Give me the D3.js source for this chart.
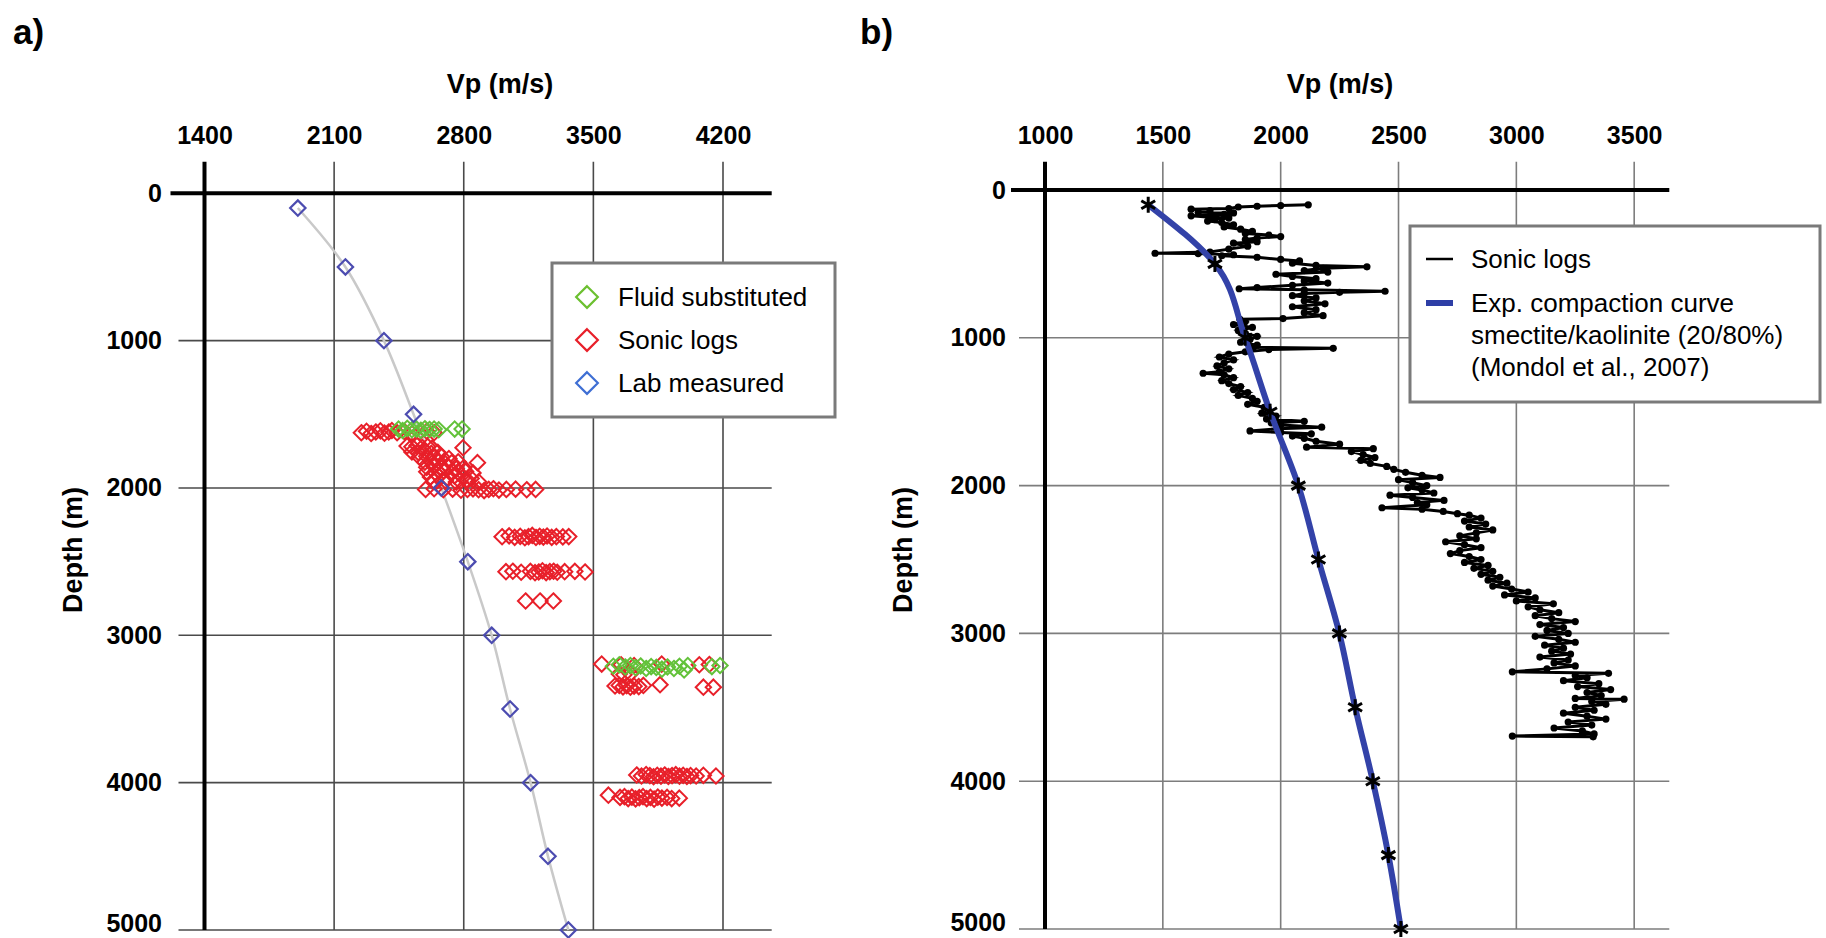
<!DOCTYPE html>
<html>
<head>
<meta charset="utf-8">
<script src="https://cdn.jsdelivr.net/npm/d3@7.9.0/dist/d3.min.js"></script>
<style>
  body { margin: 0; background: #fff; }
  svg { display: block; font-family: 'Liberation Sans', Arial, sans-serif; }
  .tick text { font-weight: bold; font-size: 25px; fill: #000; }
</style>
</head>
<body>
<svg id="chart" width="1826" height="938"></svg>
<script>
// axis ticks
const depthTicks = [0, 1000, 2000, 3000, 4000, 5000];
const vpTicksA = [1400, 2100, 2800, 3500, 4200];
const vpTicksB = [1000, 1500, 2000, 2500, 3000, 3500];

// a) lab measured
const labDepth = [100, 500, 1000, 1500, 2000, 2500, 3000, 3500, 4000, 4500, 5000];
const labVp = [1904, 2161, 2369, 2529, 2679, 2822, 2951, 3050, 3161, 3255, 3365];

// a) sonic logs [depth, vp]
const sonicA = [
  [1625,2247],[1615,2275],[1630,2300],[1620,2325],[1612,2350],[1628,2372],[1620,2395],[1610,2412],[1625,2440],[1618,2480],[1630,2520],[1622,2560],[1615,2600],[1625,2640],
  [1715,2494],[1720,2520],[1712,2548],[1725,2575],[1718,2605],[1730,2630],[1727,2796],
  [1755,2520],[1760,2555],[1750,2590],[1765,2625],[1758,2660],
  [1790,2560],[1785,2600],[1795,2640],[1788,2680],[1800,2720],
  [1828,2874],[1825,2590],[1830,2630],[1820,2665],[1835,2700],[1828,2735],[1822,2770],
  [1860,2600],[1855,2640],[1865,2680],[1858,2720],[1870,2760],[1862,2800],
  [1890,2600],[1895,2645],[1885,2690],[1900,2730],[1892,2770],[1888,2810],[1898,2850],
  [1925,2620],[1920,2665],[1930,2710],[1918,2750],[1928,2795],[1935,2840],
  [1955,2640],[1950,2700],[1960,2760],[1948,2820],[1958,2880],
  [2010,2594],[2005,2640],[2012,2690],[2008,2740],[2015,2785],[2010,2820],[2006,2850],[2012,2880],[2018,2910],[2010,2935],[2005,2960],[2014,2990],[2010,3030],[2008,3080],[2012,3140],[2010,3188],
  [2331,3007],[2325,3045],[2335,3075],[2328,3105],[2338,3130],[2330,3150],[2322,3170],[2336,3190],[2328,3210],[2333,3230],[2326,3250],[2335,3275],[2330,3300],[2332,3335],[2330,3367],
  [2568,3028],[2565,3065],[2572,3110],[2566,3160],[2575,3185],[2570,3205],[2562,3225],[2574,3245],[2568,3265],[2565,3285],[2572,3305],[2568,3345],[2566,3400],[2570,3455],
  [2767,3134],[2767,3212],[2767,3284],
  [3195,3545],[3200,3650],[3205,3720],[3195,3869],[3200,4072],[3198,4126],
  [3262,3640],[3268,3665],[3260,3700],
  [3344,3617],[3340,3640],[3350,3660],[3342,3680],[3352,3700],[3345,3720],[3348,3745],[3340,3770],[3335,3860],[3352,4094],[3352,4148],
  [3948,3734],[3955,3760],[3945,3785],[3952,3805],[3960,3825],[3950,3845],[3956,3865],[3948,3885],[3958,3905],[3952,3925],[3946,3945],[3956,3965],[3950,3985],[3958,4005],[3952,4025],[3955,4055],[3950,4094],[3955,4162],
  [4085,3581],[4100,3644],[4095,3668],[4108,3688],[4098,3708],[4110,3728],[4102,3748],[4095,3768],[4108,3788],[4100,3808],[4112,3828],[4098,3848],[4105,3870],[4100,3898],[4108,3923],[4105,3964]
];

// a) fluid substituted [depth, vp]
const fluidA = [
  [1600,2448],[1610,2470],[1595,2495],[1605,2520],[1600,2545],[1608,2568],[1598,2590],[1603,2615],[1600,2640],[1605,2665],[1600,2751],[1600,2791],
  [3210,3608],[3200,3640],[3215,3672],[3205,3700],[3220,3728],[3208,3755],[3225,3785],[3212,3812],[3218,3840],[3230,3870],[3215,3900],[3225,3935],[3210,3965],[3235,3990],[3205,4010],[3212,4140],[3205,4184]
];

// b) exp. compaction curve
const compDepth = [100, 500, 1000, 1500, 2000, 2500, 3000, 3500, 4000, 4500, 5000];
const compVp = [1438, 1721, 1849, 1955, 2075, 2160, 2249, 2316, 2391, 2457, 2510];

// b) sonic log trace [depth, vp]
const sonicB = [
  [100,2117],[105,2000],[110,1900],[115,1820],[125,1780],[130,1620],[140,1700],[150,1650],[155,1800],[165,1760],[175,1620],[185,1700],[190,1780],[200,1720],
  [210,1690],[220,1750],[235,1800],[250,1760],[265,1830],[280,1880],[295,1850],[305,1950],[315,2000],[325,1900],[335,1850],[350,1900],[360,1800],[380,1860],
  [400,1780],[420,1700],[428,1467],[430,1650],[438,1800],[445,1750],[455,1900],[470,2000],[480,2080],[495,2050],[510,2150],[520,2366],[530,2180],[545,2100],
  [555,2200],[570,1980],[585,2050],[600,2150],[615,2100],[630,2200],[645,2050],[660,1900],[668,1824],[675,2100],[685,2443],[692,2250],[700,2100],[715,2050],
  [730,2150],[750,2100],[770,2188],[790,2050],[810,2150],[830,2100],[850,2180],[870,2010],[875,1827],[890,1850],[910,1800],[930,1880],[950,1820],[970,1850],
  [990,1900],[1010,1870],[1030,1830],[1050,1900],[1065,1884],[1071,2223],[1080,1950],[1095,1850],[1110,1780],[1130,1740],[1150,1800],[1170,1760],[1190,1730],
  [1210,1780],[1230,1740],[1240,1671],[1250,1760],[1270,1800],[1290,1750],[1310,1780],[1330,1830],[1350,1800],[1370,1860],[1390,1820],[1410,1880],[1430,1900],
  [1450,1860],[1470,1930],[1490,1950],[1510,1920],[1530,1980],[1550,1940],[1565,2100],[1575,1960],[1590,2000],[1605,2174],[1615,1990],[1630,1870],[1640,2000],
  [1650,2130],[1665,2050],[1680,2100],[1700,2150],[1720,2250],[1740,2110],[1750,2393],[1770,2300],[1790,2350],[1810,2400],[1830,2340],[1850,2380],[1870,2450],
  [1890,2480],[1910,2530],[1930,2600],[1945,2676],[1960,2500],[1980,2560],[2000,2620],[2015,2540],[2030,2600],[2050,2650],[2065,2464],[2080,2560],[2100,2693],
  [2115,2580],[2130,2620],[2150,2430],[2160,2600],[2175,2690],[2190,2750],[2200,2800],[2220,2850],[2240,2780],[2260,2870],[2280,2800],[2300,2900],[2320,2830],
  [2340,2760],[2360,2830],[2380,2700],[2400,2780],[2420,2850],[2440,2760],[2460,2720],[2480,2800],[2500,2850],[2520,2780],[2540,2880],[2560,2820],[2580,2900],
  [2600,2850],[2620,2930],[2640,2880],[2660,2960],[2680,2900],[2700,2980],[2720,3050],[2740,2950],[2760,3080],[2780,3000],[2800,3157],[2820,3050],[2840,3100],
  [2860,3180],[2880,3080],[2900,3150],[2920,3250],[2940,3100],[2960,3200],[2980,3130],[3000,3220],[3020,3080],[3040,3180],[3060,3250],[3080,3120],[3100,3200],
  [3120,3150],[3140,3230],[3160,3100],[3180,3220],[3200,3160],[3220,3250],[3240,3130],[3260,2983],[3270,3391],[3285,3250],[3300,3300],[3320,3200],[3340,3350],
  [3360,3260],[3380,3400],[3400,3300],[3420,3360],[3440,3250],[3445,3457],[3460,3320],[3480,3380],[3500,3250],[3520,3330],[3540,3200],[3560,3300],[3580,3380],
  [3600,3220],[3620,3320],[3640,3160],[3660,3280],[3680,3330],[3695,2983],[3700,3326]
];

const svg = d3.select('#chart');
const diamond = d3.symbolDiamond2 || d3.symbolDiamond;
const star = d3.symbolAsterisk || d3.symbolStar;

// shared frame: grid, axes, labels
function drawFrame(g, x, y, ticksX, opt) {
    const x0 = x.range()[0], x1 = x.range()[1];
    const y0 = y(0), yEnd = y(5000);

    // vertical grid
    g.selectAll('.vgrid').data(ticksX.slice(1)).join('line')
      .attr('x1', d => x(d)).attr('x2', d => x(d))
      .attr('y1', opt.top).attr('y2', yEnd)
      .attr('stroke', opt.grid).attr('stroke-width', 1.6);

    // horizontal grid
    g.selectAll('.hgrid').data(depthTicks.slice(1)).join('line')
      .attr('x1', x0 - 26).attr('x2', x1)
      .attr('y1', d => y(d)).attr('y2', d => y(d))
      .attr('stroke', opt.grid).attr('stroke-width', 1.6);

    // zero line and depth axis
    g.append('line').attr('x1', x0 - 34).attr('x2', x1).attr('y1', y0).attr('y2', y0)
      .attr('stroke', '#000').attr('stroke-width', 4);
    g.append('line').attr('x1', x0).attr('x2', x0).attr('y1', opt.top).attr('y2', yEnd)
      .attr('stroke', '#000').attr('stroke-width', 4);

    g.append('g').attr('transform', `translate(0,${opt.top})`)
      .call(d3.axisTop(x).tickValues(ticksX).tickFormat(d3.format('d')).tickSize(0).tickPadding(18))
      .call(s => s.select('.domain').remove());
    g.append('g').attr('transform', `translate(${x0},0)`)
      .call(d3.axisLeft(y).tickValues(depthTicks).tickFormat(d3.format('d')).tickSize(0).tickPadding(opt.pad))
      .call(s => s.select('.domain').remove())
      .call(s => s.selectAll('.tick text').filter(d => d === 5000).attr('dy', '0.05em'));

    g.append('text').attr('x', opt.titleX).attr('y', 93).attr('text-anchor', 'middle')
      .attr('font-weight', 'bold').attr('font-size', 27).text('Vp (m/s)');
    g.append('text').attr('transform', `translate(${opt.depthX},550) rotate(-90)`)
      .attr('text-anchor', 'middle').attr('font-weight', 'bold').attr('font-size', 27)
      .text('Depth (m)');
    g.append('text').attr('x', opt.labelX).attr('y', 44)
      .attr('font-weight', 'bold').attr('font-size', 35).text(opt.label);
}

// ---------- panel a ----------
const xA = d3.scaleLinear().domain([1400, 4463]).range([204.5, 771.7]);
const yA = d3.scaleLinear().domain([0, 5000]).range([193.3, 930]);
const gA = svg.append('g');
drawFrame(gA, xA, yA, vpTicksA, {top: 161.7, grid: '#4a4a4a', pad: 42.5, titleX: 500, depthX: 82, labelX: 13, label: 'a)'});

// trend line through lab points
gA.append('path')
  .datum(labDepth.map((d, i) => [labVp[i], d]))
  .attr('d', d3.line().x(d => xA(d[0])).y(d => yA(d[1])).curve(d3.curveCatmullRom))
  .attr('fill', 'none').attr('stroke', '#c9c9c9').attr('stroke-width', 2.5);

const diamondPath = d3.symbol().type(diamond).size(150)();
gA.selectAll('.sonic').data(sonicA).join('path')
  .attr('d', diamondPath)
  .attr('transform', d => `translate(${xA(d[1])},${yA(d[0])})`)
  .attr('fill', 'none').attr('stroke', '#e8202a').attr('stroke-width', 2);
gA.selectAll('.fluid').data(fluidA).join('path')
  .attr('d', diamondPath)
  .attr('transform', d => `translate(${xA(d[1])},${yA(d[0])})`)
  .attr('fill', 'none').attr('stroke', '#63c23a').attr('stroke-width', 2);
gA.selectAll('.lab').data(labDepth).join('path')
  .attr('d', diamondPath)
  .attr('transform', (d, i) => `translate(${xA(labVp[i])},${yA(d)})`)
  .attr('fill', 'none').attr('stroke', '#4c4cb0').attr('stroke-width', 2.2);

// legend a
const legA = gA.append('g');
legA.append('rect').attr('x', 552).attr('y', 263).attr('width', 283).attr('height', 154)
  .attr('fill', '#fff').attr('stroke', '#7a7a7a').attr('stroke-width', 3);
const legItemsA = [['Fluid substituted', '#6cc030'], ['Sonic logs', '#e8202a'], ['Lab measured', '#3f6fd4']];
const bigDiamond = d3.symbol().type(diamond).size(300)();
legItemsA.forEach(([name, col], i) => {
    const yy = 297 + i * 43;
    legA.append('path').attr('d', bigDiamond).attr('transform', `translate(587,${yy})`)
      .attr('fill', 'none').attr('stroke', col).attr('stroke-width', 2.2);
    legA.append('text').attr('x', 618).attr('y', yy + 9).attr('font-size', 26).text(name);
});

// ---------- panel b ----------
const xB = d3.scaleLinear().domain([1000, 3649]).range([1045, 1669.3]);
const yB = d3.scaleLinear().domain([0, 5000]).range([190, 929]);
const gB = svg.append('g');
drawFrame(gB, xB, yB, vpTicksB, {top: 161.7, grid: '#7d7d7d', pad: 39, titleX: 1340, depthX: 912, labelX: 860, label: 'b)'});

gB.append('path')
  .datum(sonicB)
  .attr('d', d3.line().x(d => xB(d[1])).y(d => yB(d[0])))
  .attr('fill', 'none').attr('stroke', '#000').attr('stroke-width', 3);
gB.selectAll('.sdot').data(sonicB).join('circle')
  .attr('cx', d => xB(d[1])).attr('cy', d => yB(d[0])).attr('r', 3.6).attr('fill', '#000');

gB.append('path')
  .datum(compDepth.map((d, i) => [compVp[i], d]))
  .attr('d', d3.line().x(d => xB(d[0])).y(d => yB(d[1])).curve(d3.curveMonotoneY))
  .attr('fill', 'none').attr('stroke', '#3342a8').attr('stroke-width', 6);
gB.selectAll('.star').data(compDepth).join('path')
  .attr('d', d3.symbol().type(star).size(180)())
  .attr('transform', (d, i) => `translate(${xB(compVp[i])},${yB(d)})`)
  .attr('fill', '#000').attr('stroke', '#000').attr('stroke-width', 3);

// legend b
const legB = gB.append('g');
legB.append('rect').attr('x', 1410).attr('y', 226).attr('width', 410).attr('height', 176)
  .attr('fill', '#fff').attr('stroke', '#7a7a7a').attr('stroke-width', 3);
legB.append('line').attr('x1', 1426).attr('x2', 1453).attr('y1', 259).attr('y2', 259)
  .attr('stroke', '#000').attr('stroke-width', 2.5);
legB.append('text').attr('x', 1471).attr('y', 268).attr('font-size', 26).text('Sonic logs');
legB.append('line').attr('x1', 1426).attr('x2', 1453).attr('y1', 303).attr('y2', 303)
  .attr('stroke', '#2e3ea6').attr('stroke-width', 6);
const compLines = ['Exp. compaction curve', 'smectite/kaolinite (20/80%)', '(Mondol et al., 2007)'];
compLines.forEach((t, i) => {
    legB.append('text').attr('x', 1471).attr('y', 312 + i * 32).attr('font-size', 26).text(t);
});
</script>
</body>
</html>
